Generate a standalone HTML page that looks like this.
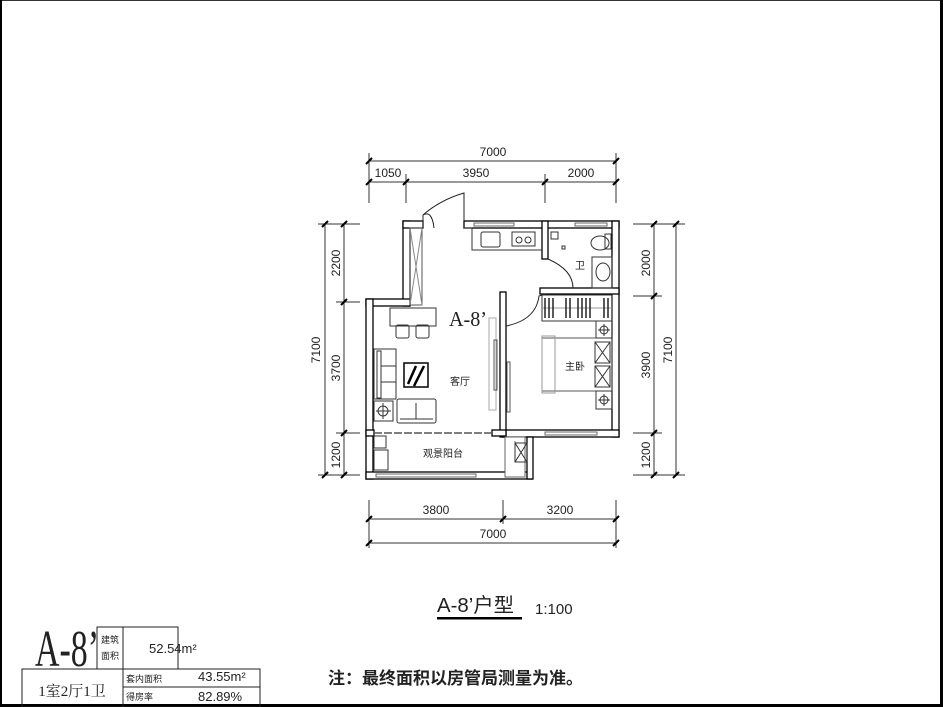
<!DOCTYPE html>
<html><head><meta charset="utf-8"><style>
html,body{margin:0;padding:0;background:#fff;}
svg{display:block;}
text{font-family:"Liberation Sans","Noto Sans CJK SC",sans-serif;fill:#222;}
.s{font-family:"Liberation Serif","Noto Serif CJK SC",serif;}
</style></head><body>
<svg width="943" height="707" viewBox="0 0 943 707" xmlns="http://www.w3.org/2000/svg">
<rect x="0" y="0" width="943" height="707" fill="#fff"/>
<rect x="0" y="0" width="943" height="1" fill="#333"/>
<rect x="0" y="0" width="2" height="707" fill="#000"/>
<rect x="940" y="0" width="3" height="707" fill="#000"/>
<rect x="0" y="704" width="943" height="3" fill="#000"/>

<g stroke="#333" stroke-width="1" fill="none">
<line x1="369" y1="161" x2="616" y2="161"/>
<line x1="369" y1="182" x2="616" y2="182"/>
<line x1="369" y1="153" x2="369" y2="203"/>
<line x1="616" y1="153" x2="616" y2="203"/>
<line x1="406" y1="174" x2="406" y2="203"/>
<line x1="545" y1="174" x2="545" y2="203"/>
<line x1="325" y1="224" x2="325" y2="475"/>
<line x1="344" y1="224" x2="344" y2="475"/>
<line x1="318" y1="224" x2="360" y2="224"/>
<line x1="336" y1="302" x2="360" y2="302"/>
<line x1="336" y1="433" x2="360" y2="433"/>
<line x1="318" y1="475" x2="360" y2="475"/>
<line x1="654" y1="224" x2="654" y2="475"/>
<line x1="676" y1="224" x2="676" y2="475"/>
<line x1="633" y1="224" x2="685" y2="224"/>
<line x1="633" y1="296" x2="662" y2="296"/>
<line x1="633" y1="433" x2="662" y2="433"/>
<line x1="633" y1="475" x2="685" y2="475"/>
<line x1="369" y1="519" x2="616" y2="519"/>
<line x1="369" y1="543" x2="616" y2="543"/>
<line x1="369" y1="500" x2="369" y2="548"/>
<line x1="616" y1="500" x2="616" y2="548"/>
<line x1="503" y1="500" x2="503" y2="524"/>
</g>
<g stroke="#000" stroke-width="2">
<line x1="366" y1="164" x2="372" y2="158"/><line x1="613" y1="164" x2="619" y2="158"/>
<line x1="366" y1="185" x2="372" y2="179"/><line x1="403" y1="185" x2="409" y2="179"/><line x1="542" y1="185" x2="548" y2="179"/><line x1="613" y1="185" x2="619" y2="179"/>
<line x1="322" y1="227" x2="328" y2="221"/><line x1="322" y1="478" x2="328" y2="472"/>
<line x1="341" y1="227" x2="347" y2="221"/><line x1="341" y1="305" x2="347" y2="299"/><line x1="341" y1="436" x2="347" y2="430"/><line x1="341" y1="478" x2="347" y2="472"/>
<line x1="651" y1="227" x2="657" y2="221"/><line x1="651" y1="299" x2="657" y2="293"/><line x1="651" y1="436" x2="657" y2="430"/><line x1="651" y1="478" x2="657" y2="472"/>
<line x1="673" y1="227" x2="679" y2="221"/><line x1="673" y1="478" x2="679" y2="472"/>
<line x1="366" y1="522" x2="372" y2="516"/><line x1="500" y1="522" x2="506" y2="516"/><line x1="613" y1="522" x2="619" y2="516"/>
<line x1="366" y1="546" x2="372" y2="540"/><line x1="613" y1="546" x2="619" y2="540"/>
</g>
<g font-size="12" text-anchor="middle">
<text x="493" y="156">7000</text>
<text x="388" y="177">1050</text>
<text x="476" y="177">3950</text>
<text x="581" y="177">2000</text>
<text x="436" y="514">3800</text>
<text x="560" y="514">3200</text>
<text x="493" y="538">7000</text>
<text transform="translate(340,263) rotate(-90)">2200</text>
<text transform="translate(340,368) rotate(-90)">3700</text>
<text transform="translate(340,455) rotate(-90)">1200</text>
<text transform="translate(320,350) rotate(-90)">7100</text>
<text transform="translate(650,263) rotate(-90)">2000</text>
<text transform="translate(650,365) rotate(-90)">3900</text>
<text transform="translate(650,455) rotate(-90)">1200</text>
<text transform="translate(672,350) rotate(-90)">7100</text>
</g>

<g fill="#fff" stroke="#000" stroke-width="1.3">
<rect x="403" y="221" width="7" height="85"/>
<rect x="403" y="221" width="20" height="7"/>
<rect x="366" y="299" width="44" height="7"/>
<rect x="366" y="299" width="7" height="180"/>
<rect x="464" y="221" width="155" height="7"/>
<rect x="612" y="221" width="7" height="216"/>
<rect x="503" y="430" width="116" height="7"/>
<rect x="500" y="292" width="6" height="145"/>
<rect x="366" y="472" width="166" height="7"/>
<rect x="366" y="430" width="8" height="6"/>
<rect x="492" y="430" width="14" height="6"/>
<rect x="542" y="221" width="6" height="38"/>
<rect x="540" y="288" width="79" height="6"/>
<rect x="527" y="437" width="6" height="42"/>
</g>
<g stroke="#666" stroke-width="1" fill="#fff">
<rect x="474" y="223" width="40" height="3"/>
<rect x="575" y="223" width="32" height="3"/>
<rect x="545" y="432" width="52" height="3"/>
<rect x="376" y="474" width="100" height="3"/>
<rect x="505" y="437" width="20" height="40"/>
<line x1="374" y1="433" x2="492" y2="433" stroke="#555" stroke-width="1.5" stroke-dasharray="8 2"/>
</g>
<g fill="none" stroke="#222" stroke-width="1">
<path d="M423 228 L423 215 Q440 200 464 193 L464 221"/>
<path d="M423 215 Q432 210 434 228"/>
<path d="M548 259 Q573 270 573 288"/>
<path d="M506 326 Q536 320 539 296 L545 294"/>
<rect x="410" y="228" width="12" height="77" stroke="#555"/>
<line x1="410" y1="228" x2="422" y2="305" stroke="#888"/>
<line x1="422" y1="228" x2="410" y2="305" stroke="#888"/>
</g>
<g fill="none" stroke="#333" stroke-width="1">
<polyline points="464,228 472,228 472,250 542,250"/>
<rect x="481" y="232" width="19" height="15" rx="2"/>
<rect x="512" y="232" width="23" height="14"/>
<circle cx="519" cy="240" r="3"/><circle cx="528" cy="240" r="3"/>
<rect x="551" y="232" width="7" height="7"/>
<rect x="562" y="246" width="3" height="3"/>
<ellipse cx="600" cy="243" rx="9" ry="7"/>
<rect x="605" y="234" width="6" height="15"/>
<rect x="592" y="257" width="20" height="31"/>
<ellipse cx="603" cy="272" rx="7" ry="9"/>
<rect x="542" y="295" width="70" height="26"/>
<line x1="542" y1="308" x2="612" y2="308" stroke="#999"/>
<g stroke="#222" stroke-width="1.5">
<line x1="545" y1="298" x2="545" y2="318"/><line x1="549" y1="298" x2="549" y2="318"/><line x1="553" y1="298" x2="553" y2="318"/>
<line x1="566" y1="298" x2="566" y2="318"/><line x1="570" y1="298" x2="570" y2="318"/>
<line x1="578" y1="298" x2="578" y2="318"/><line x1="582" y1="298" x2="582" y2="318"/><line x1="586" y1="298" x2="586" y2="318"/><line x1="590" y1="298" x2="590" y2="318"/>
<line x1="604" y1="298" x2="604" y2="318"/><line x1="608" y1="298" x2="608" y2="318"/>
</g>
<rect x="542" y="338" width="70" height="53" stroke="#555"/>
<rect x="542" y="336" width="13" height="57" stroke="#999"/>
<rect x="595" y="342" width="15" height="21"/><rect x="595" y="366" width="15" height="21"/>
<line x1="595" y1="342" x2="610" y2="363"/><line x1="610" y1="342" x2="595" y2="363"/>
<line x1="595" y1="366" x2="610" y2="387"/><line x1="610" y1="366" x2="595" y2="387"/>
<rect x="596" y="321" width="16" height="17"/><rect x="596" y="391" width="16" height="18"/>
<circle cx="604" cy="330" r="4"/><line x1="598" y1="330" x2="610" y2="330"/><line x1="604" y1="324" x2="604" y2="336"/>
<circle cx="604" cy="400" r="4"/><line x1="598" y1="400" x2="610" y2="400"/><line x1="604" y1="394" x2="604" y2="406"/>
<rect x="489" y="318" width="7" height="92" stroke="#aaa"/>
<rect x="494" y="340" width="3" height="50" stroke="#555"/>
<rect x="507" y="362" width="3" height="50" stroke="#555"/>
<rect x="390" y="308" width="46" height="18"/>
<rect x="396" y="325" width="13" height="13" rx="2"/><rect x="416" y="325" width="13" height="13" rx="2"/>
<rect x="374" y="349" width="22" height="50"/>
<rect x="377" y="351" width="4" height="47"/>
<line x1="381" y1="366" x2="396" y2="366"/><line x1="381" y1="382" x2="396" y2="382"/>
<rect x="397" y="399" width="39" height="24" rx="2"/>
<line x1="400" y1="419" x2="433" y2="419"/><line x1="416" y1="403" x2="416" y2="419"/>
<rect x="374" y="401" width="19" height="20"/>
<circle cx="383" cy="411" r="5"/><line x1="376" y1="411" x2="391" y2="411"/><line x1="383" y1="403" x2="383" y2="419"/>
<rect x="404" y="363" width="24" height="24" stroke="#000" stroke-width="1.5"/>
<rect x="374" y="436" width="12" height="12"/>
<rect x="374" y="450" width="14" height="20"/>
<line x1="515" y1="441" x2="515" y2="462" stroke="#777"/>
<rect x="515" y="443" width="12" height="19"/>
<line x1="515" y1="443" x2="527" y2="462"/><line x1="527" y1="443" x2="515" y2="462"/>
</g>
<g stroke="#000" stroke-width="2.5"><line x1="408" y1="384" x2="416" y2="366"/><line x1="414" y1="386" x2="424" y2="366"/></g>
<g font-size="10" text-anchor="middle">
<text x="460" y="385">客厅</text>
<text x="575" y="370">主卧</text>
<text x="580" y="269">卫</text>
<text x="443" y="457">观景阳台</text>
</g>
<text class="s" x="449" y="326" font-size="21" textLength="38" lengthAdjust="spacingAndGlyphs">A-8’</text>

<text x="437" y="612" font-size="20" textLength="77" lengthAdjust="spacingAndGlyphs">A-8’户型</text>
<rect x="437" y="617" width="85" height="2.5" fill="#000"/>
<text x="535" y="614" font-size="15">1:100</text>

<text class="s" x="35" y="666" font-size="52" textLength="64" lengthAdjust="spacingAndGlyphs">A-8’</text>
<g fill="none" stroke="#222" stroke-width="1">
<rect x="97" y="627" width="26" height="42"/>
<rect x="123" y="627" width="55" height="42"/>
<rect x="22" y="669" width="238" height="38"/>
<line x1="123" y1="669" x2="123" y2="707"/>
<line x1="123" y1="687" x2="260" y2="687"/>
</g>
<g font-size="9">
<text x="101" y="643">建筑</text>
<text x="101" y="659">面积</text>
<text x="126" y="682">套内面积</text>
<text x="126" y="700">得房率</text>
</g>
<text x="149" y="653" font-size="13">52.54m²</text>
<text x="198" y="681" font-size="13">43.55m²</text>
<text x="198" y="701" font-size="13">82.89%</text>
<text class="s" x="72" y="696" font-size="15" text-anchor="middle">1室2厅1卫</text>
<text x="328" y="684" font-size="17" font-weight="bold" style="font-family:'Noto Sans CJK SC',sans-serif">注：最终面积以房管局测量为准。</text>
</svg>
</body></html>
